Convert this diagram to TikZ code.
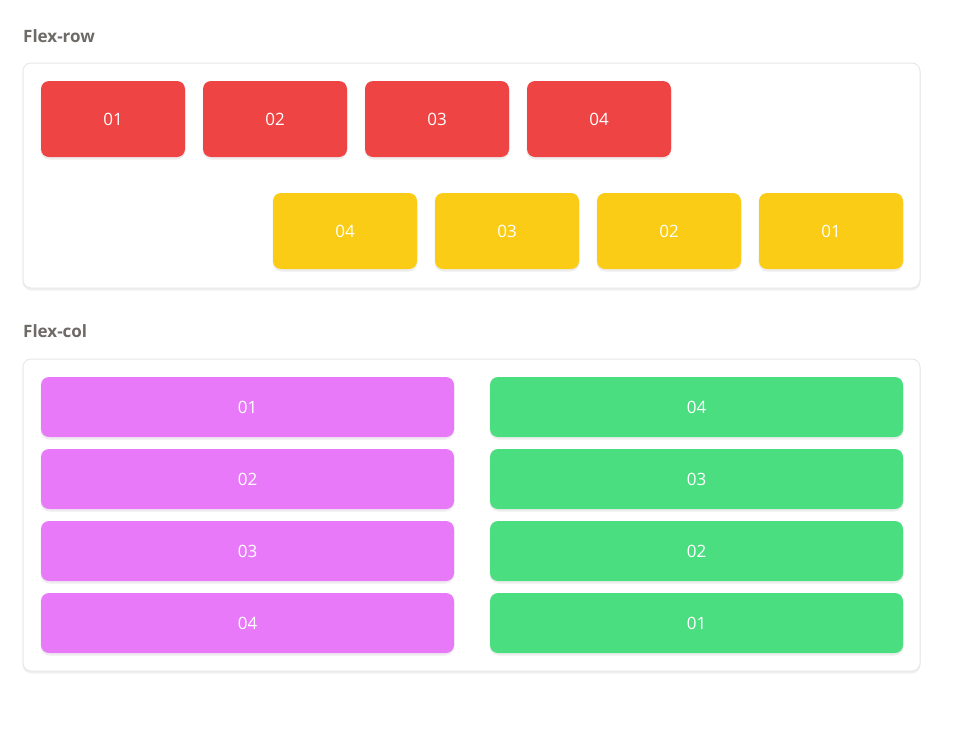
\documentclass[tikz,border=0pt]{standalone}
\usepackage{fontspec}
\setmainfont{Open Sans}
\definecolor{cred}{HTML}{EF4444}
\definecolor{cyel}{HTML}{FACC15}
\definecolor{cpur}{HTML}{E879F9}
\definecolor{cgrn}{HTML}{4ADE80}
\definecolor{ctitle}{HTML}{6E6A66}
\definecolor{cborder}{HTML}{E8E8E8}
\tikzset{
  panel/.style={draw=cborder, line width=1pt, fill=white, rounded corners=8pt},
  panelshadow/.style={fill=black, opacity=0.06, rounded corners=9pt},
  itembox/.style={rounded corners=8pt},
  itemshadow/.style={fill=black, opacity=0.07, rounded corners=9pt},
  itemtext/.style={text=white, font=\fontsize{17}{20}\selectfont, inner sep=0pt},
  title/.style={anchor=west, text=ctitle, font=\fontsize{17}{20}\selectfont\bfseries, inner sep=0pt},
}
\begin{document}
\begin{tikzpicture}[x=1pt,y=-1pt]
\useasboundingbox (0,0) rectangle (963,748);
\fill[white] (0,0) rectangle (963,748);
% titles
\node[title] (t1) at (23,36) {Flex-row};
\node[title] (t2) at (23,331) {Flex-col};
% panels
\path[panelshadow] (22.5,64) rectangle (920.5,290.5);
\path[panel] (23,63) rectangle (920,288);
\path[panelshadow] (22.5,360) rectangle (920.5,673.5);
\path[panel] (23,359) rectangle (920,671);
% red row
\foreach \i/\x in {01/41,02/203,03/365,04/527}{
  \path[itemshadow] (\x-0.5,82) rectangle ++(145,77.5);
  \path[itembox, fill=cred] (\x,81) rectangle ++(144,76);
  \node[itemtext] (r\i) at (\x+72,119.5) {\i};
}
% yellow row
\foreach \i/\x in {04/273,03/435,02/597,01/759}{
  \path[itemshadow] (\x-0.5,194) rectangle ++(145,77.5);
  \path[itembox, fill=cyel] (\x,193) rectangle ++(144,76);
  \node[itemtext] (y\i) at (\x+72,231.5) {\i};
}
% purple column
\foreach \i/\y in {01/377,02/449,03/521,04/593}{
  \path[itemshadow] (40.5,\y+1) rectangle ++(414,61.5);
  \path[itembox, fill=cpur] (41,\y) rectangle ++(413,60);
  \node[itemtext] (p\i) at (247.5,\y+30.5) {\i};
}
% green column
\foreach \i/\y in {04/377,03/449,02/521,01/593}{
  \path[itemshadow] (489.5,\y+1) rectangle ++(414,61.5);
  \path[itembox, fill=cgrn] (490,\y) rectangle ++(413,60);
  \node[itemtext] (g\i) at (696.5,\y+30.5) {\i};
}
\end{tikzpicture}
\end{document}
